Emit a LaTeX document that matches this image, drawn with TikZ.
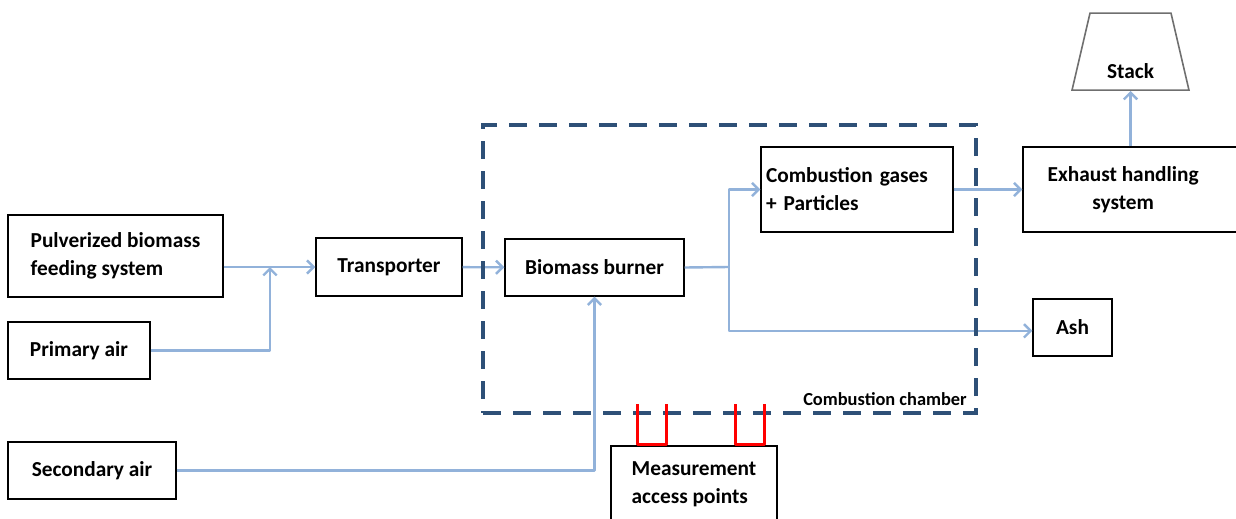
\documentclass[tikz,border=0pt]{standalone}
\usepackage{fontspec}
\setmainfont{Carlito}
\usetikzlibrary{arrows.meta,positioning,shapes.geometric}
\definecolor{flowblue}{HTML}{92B2DA}
\definecolor{chamberblue}{HTML}{2E5077}
\definecolor{stackgray}{HTML}{6F6F6F}

\begin{document}
\begin{tikzpicture}[
  x=0.75pt, y=-0.75pt,
  font=\bfseries\fontsize{16}{21}\selectfont,
  box/.style={draw, line width=1pt, align=center, inner sep=3.75pt},
  flow/.style={-{Straight Barb[length=5pt,width=10pt]}, line width=1.8pt, flowblue, line join=round},
  feedline/.style={line width=1.8pt, flowblue, line join=round},
  chamberbox/.style={draw=chamberblue, line width=3pt, dash pattern=on 13.5pt off 9pt},
  probe/.style={red, line width=2.25pt, line join=round},
]
\useasboundingbox (0,0) rectangle (1236,518);

% inputs
\node[box, align=left, minimum width=161.25pt, minimum height=61.5pt] (feed) at (115.5,256) {Pulverized biomass\\feeding system};
\node[box, minimum width=106.5pt, minimum height=42.75pt] (primary) at (79,350.5) {Primary air};
\node[box, minimum width=126pt, minimum height=42.75pt] (secondary) at (92,470.5) {Secondary air};

% process chain
\node[box, minimum width=109.5pt, minimum height=43.5pt] (transporter) at (389,267) {Transporter};
\node[box, minimum width=134.25pt, minimum height=42.75pt] (burner) at (594.5,267.5) {Biomass burner};
\node[box, align=left, text width=136.5pt, minimum height=63.75pt] (gases) at (857,189.5) {Combustion gases\\+ Particles};
\node[box, minimum width=170.25pt, minimum height=63.75pt,
  label={[name=exhaustlbl, align=center, xshift=-10pt]center:Exhaust handling\\system}] (exhaust) at (1136.5,189.5) {};
\node[draw=stackgray, line width=1.2pt, trapezium, trapezium left angle=77.5, trapezium right angle=77.5,
  trapezium stretches=true, minimum width=87.75pt, minimum height=57.75pt, anchor=south,
  label={[name=stacklbl, yshift=-14.6pt]center:Stack}] (stack) at (1130.5,91) {};
\node[box, minimum width=59.25pt, minimum height=42.75pt] (ash) at (1072.5,327.5) {Ash};
\node[box, align=left, minimum width=124.5pt, minimum height=57pt] (measure) at (694,484) {Measurement\\access points};

\coordinate (join) at (270,267);
\coordinate (split) at (729,267);

% flows
\draw[flow] (feed.east |- transporter.west) -- (transporter.west);
\draw[flow] (primary.east) -| (join);
\draw[flow] (transporter) -- (burner);
\draw[flow] (secondary.east) -| (burner.south);
\draw[feedline] (burner.east) -- (split);
\draw[flow] (split) |- (gases.west);
\draw[flow] (split) |- ([yshift=-2.5pt]ash.west);
\draw[flow] (gases) -- (exhaust.west);
\draw[flow] (exhaust.north -| stack.south) -- (stack.south);

% combustion chamber
\node[chamberbox, minimum width=369.75pt, minimum height=216pt] (chamber) at (729.5,269) {};
\node[anchor=east, font=\bfseries\fontsize{13.8}{16}\selectfont, inner sep=0pt] (chamberlbl) at (967,399) {Combustion chamber};

% access ports
\draw[probe] (637,404) -- (637,444) -- (666,444) -- (666,404);
\draw[probe] (735,404) -- (735,444) -- (764,444) -- (764,404);
\end{tikzpicture}
\end{document}
